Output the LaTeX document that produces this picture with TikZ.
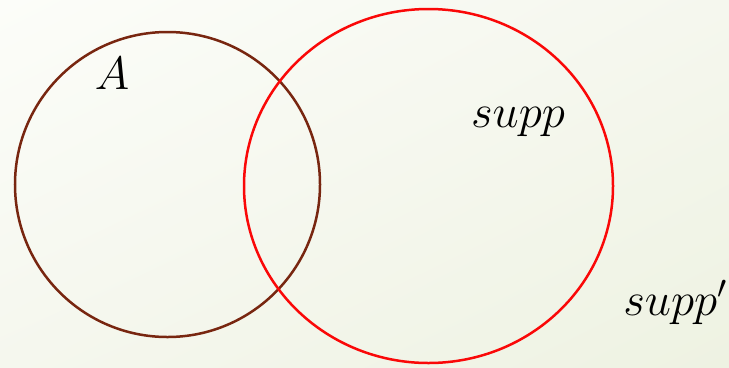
\documentclass[tikz,border=0pt]{standalone}
\usepackage{fix-cm}
\usetikzlibrary{shapes.geometric,shadings}
\definecolor{setbrown}{RGB}{120,38,16}
\definecolor{setred}{RGB}{250,8,8}
\definecolor{bgtl}{RGB}{252,253,249}
\definecolor{bgbr}{RGB}{238,242,226}
\definecolor{bgmid}{RGB}{245,247,238}
\begin{document}
\begin{tikzpicture}[x=1bp,y=-1bp,
    setring/.style={ellipse,inner sep=0pt,line width=2.5bp},
    setname/.style={anchor=base,inner sep=0pt,font=\fontsize{47}{56}\selectfont}]
  \useasboundingbox (0,0) rectangle (729,367);
  \shade[upper left=bgtl,upper right=bgmid,lower left=bgmid,lower right=bgbr] (0,0) rectangle (729,367);
  \node[setring,draw=setbrown,minimum width=305bp,minimum height=305bp] (setA) at (167.5,184.5) {};
  \node[setring,draw=setred,minimum width=369bp,minimum height=354bp] (supp) at (428.5,186) {};
  \node[setname] (labA) at (112,89) {$A$};
  \node[setname] (labsupp) at (518,127) {$supp$};
  \node[setname] (labsuppp) at (675,315) {$supp'$};
\end{tikzpicture}
\end{document}
